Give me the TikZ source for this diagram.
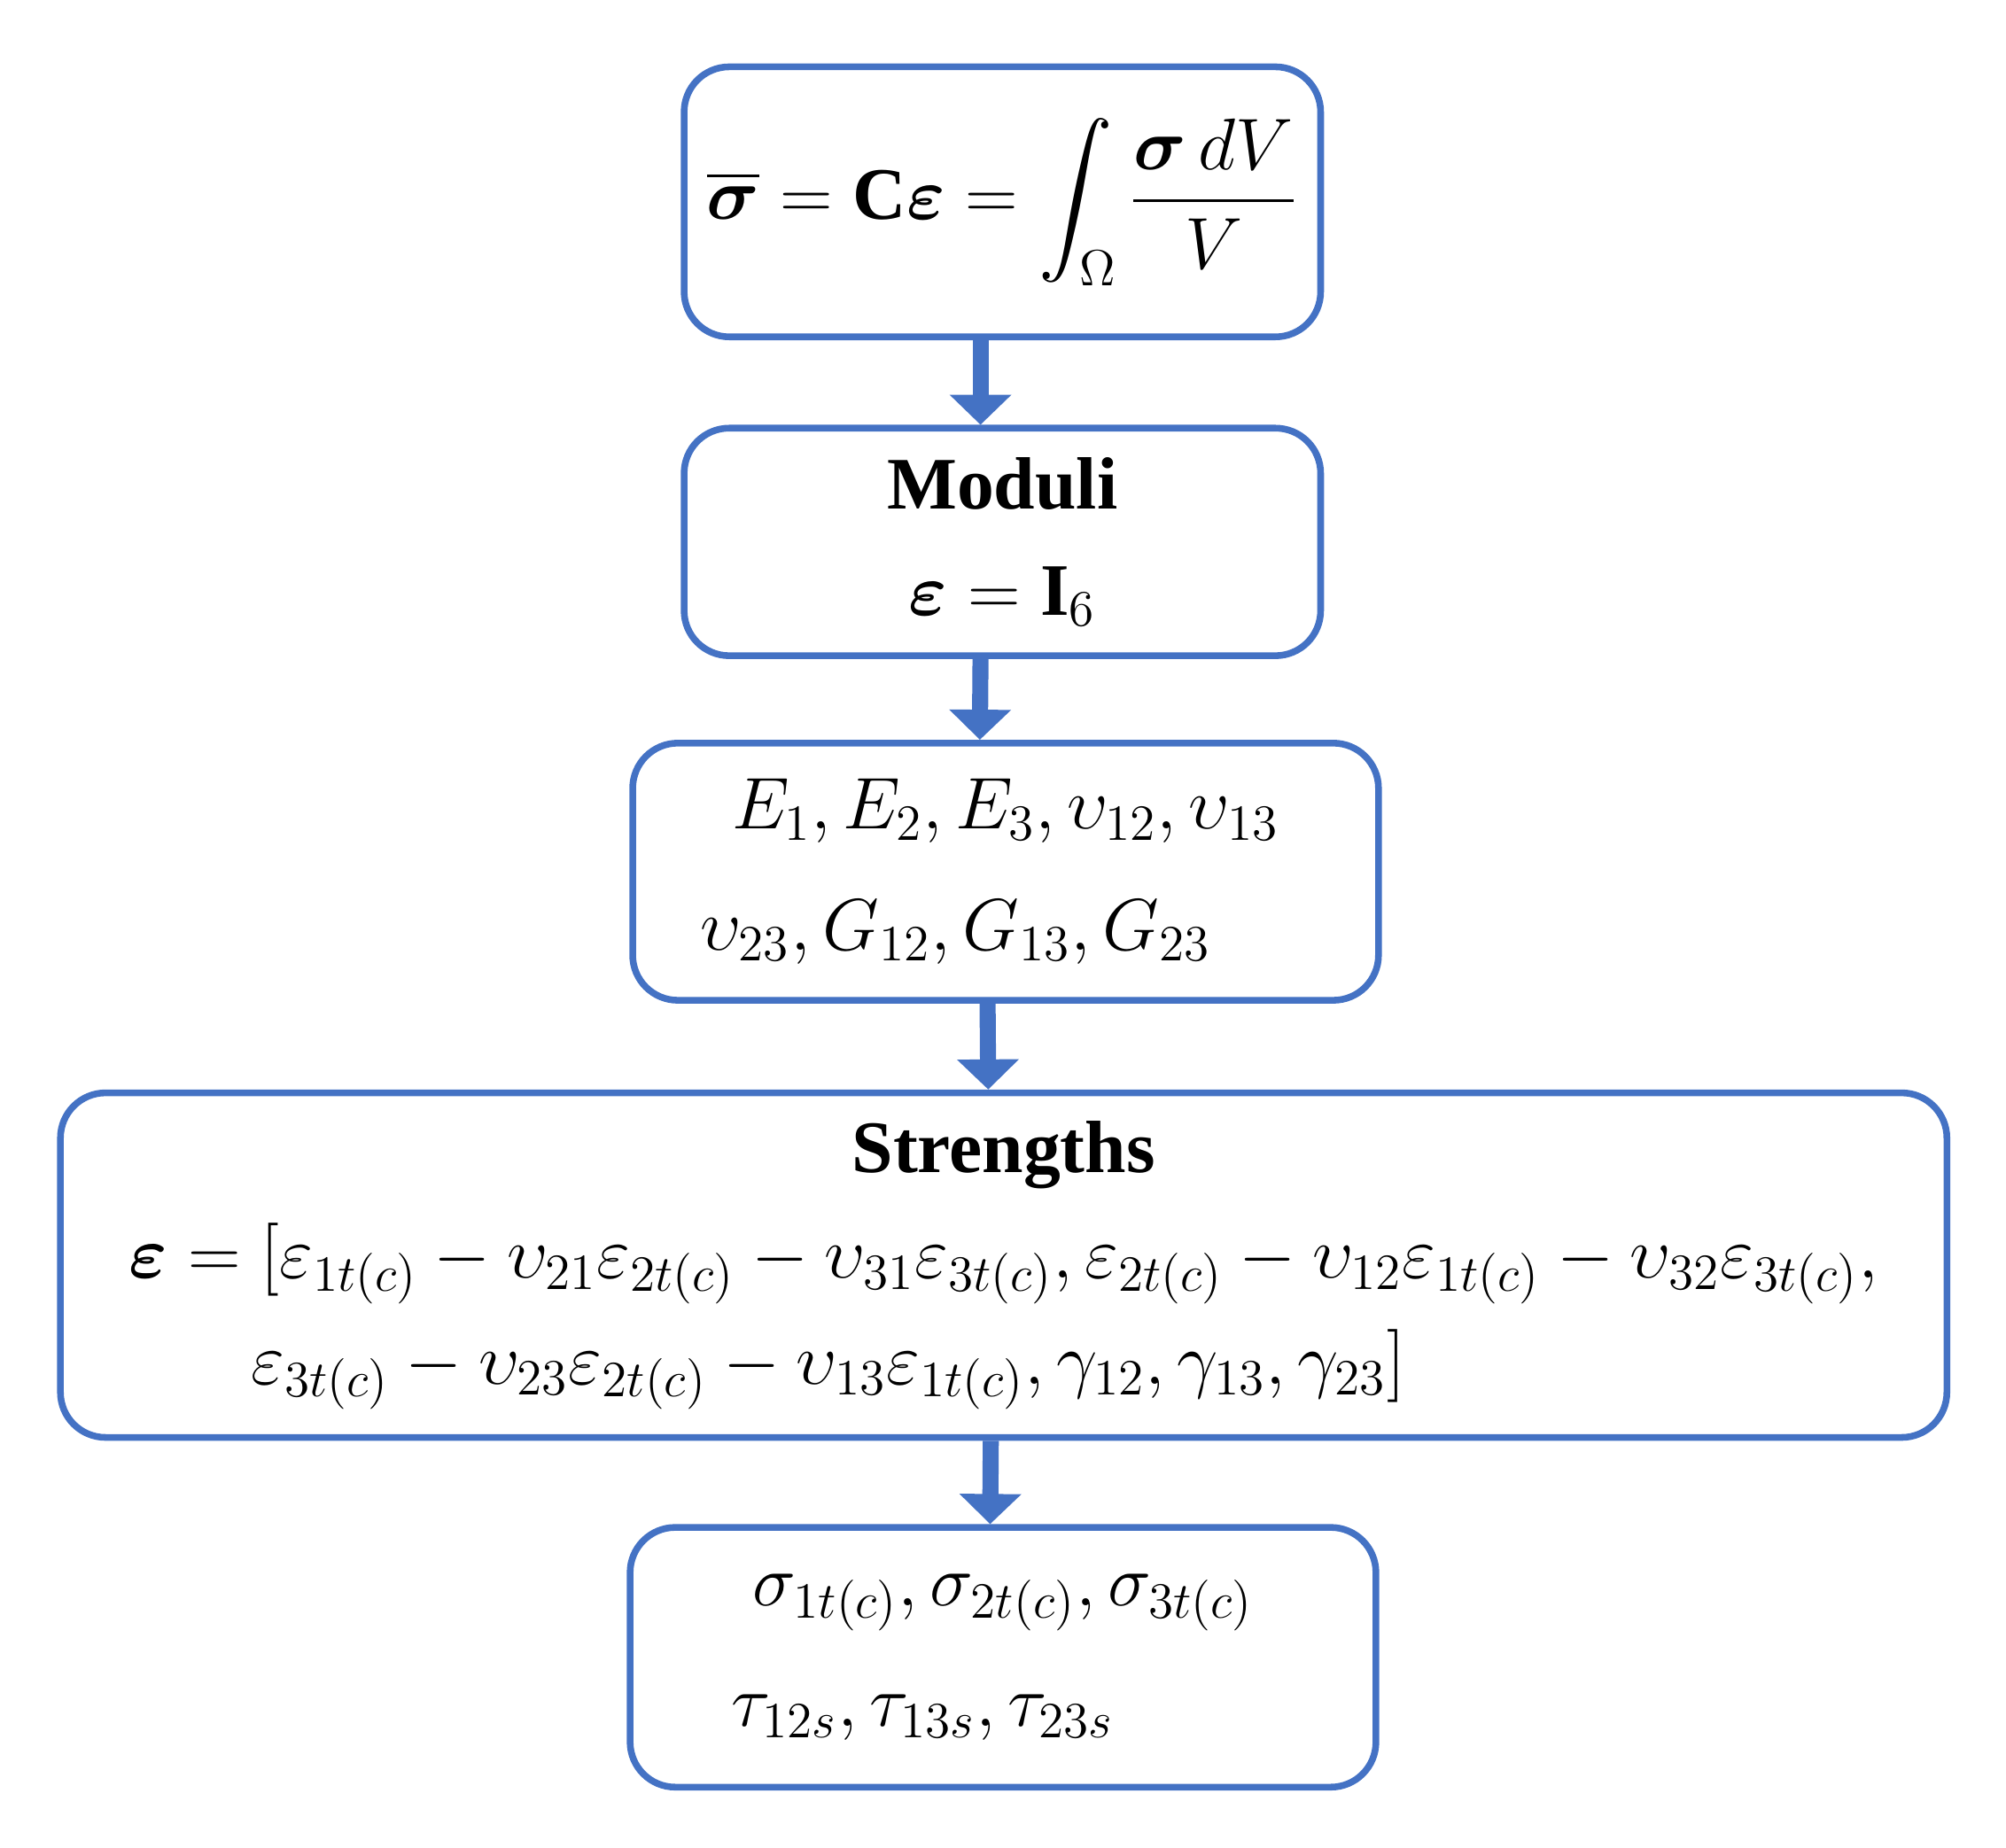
\documentclass[tikz,border=0pt]{standalone}
\usepackage{amsmath,amssymb}
\usepackage{fontspec}
\setmainfont{Liberation Serif}
\usetikzlibrary{arrows.meta}
\definecolor{boxblue}{HTML}{4472C4}
\tikzset{
  box/.style={draw=boxblue, line width=1.9pt, rounded corners=0.45cm, align=center, inner sep=0pt},
  flow/.style={boxblue, line width=0.16cm, -{Triangle[width=0.6cm,length=0.3cm]}}
}
\begin{document}
\begin{tikzpicture}[x=0.01282cm,y=-0.01282cm,font=\fontsize{21}{30}\selectfont]
\useasboundingbox (0,0) rectangle (1560,1437);
% boxes
\node [box, minimum width=495*0.01282cm, minimum height=210*0.01282cm] (avg) at (779.5,157)
  {$\overline{\boldsymbol{\sigma}}=\mathbf{C}\boldsymbol{\varepsilon}=\displaystyle\int_{\Omega}\frac{\boldsymbol{\sigma}\,dV}{V}$};
\node [box, minimum width=495*0.01282cm, minimum height=177*0.01282cm] (mod) at (779.5,421.5)
  {\textbf{Moduli}\\ $\boldsymbol{\varepsilon}=\mathbf{I}_6$};
\node [box, minimum width=580*0.01282cm, minimum height=200*0.01282cm] (ela) at (782,678)
  {$E_1,E_2,E_3,\upsilon_{12},\upsilon_{13}$\\[0.15cm] $\upsilon_{23},G_{12},G_{13},G_{23}\hspace{1.0cm}$};
\node [box, minimum width=1467*0.01282cm, minimum height=268*0.01282cm] (str) at (780.5,984)
  {\textbf{Strengths}\\
   $\boldsymbol{\varepsilon}=[\varepsilon_{1t(c)}-\upsilon_{21}\varepsilon_{2t(c)}-\upsilon_{31}\varepsilon_{3t(c)},\varepsilon_{2t(c)}-\upsilon_{12}\varepsilon_{1t(c)}-\upsilon_{32}\varepsilon_{3t(c)},$\\
   $\varepsilon_{3t(c)}-\upsilon_{23}\varepsilon_{2t(c)}-\upsilon_{13}\varepsilon_{1t(c)},\gamma_{12},\gamma_{13},\gamma_{23}]\hspace{3.5cm}$};
\node [box, minimum width=580*0.01282cm, minimum height=202*0.01282cm] (res) at (780,1289)
  {$\sigma_{1t(c)},\sigma_{2t(c)},\sigma_{3t(c)}$\\[0.15cm] $\tau_{12s},\tau_{13s},\tau_{23s}\hspace{1.6cm}$};
% connectors
\draw [flow] ([xshift=-17*0.01282cm]avg.south) -- ([xshift=-17*0.01282cm]mod.north);
\draw [flow] ([xshift=-17*0.01282cm]mod.south) -- ([xshift=-20*0.01282cm]ela.north);
\draw [flow] ([xshift=-14*0.01282cm]ela.south) -- ([xshift=-12*0.01282cm]str.north);
\draw [flow] ([xshift=-10*0.01282cm]str.south) -- ([xshift=-10*0.01282cm]res.north);
\end{tikzpicture}
\end{document}
